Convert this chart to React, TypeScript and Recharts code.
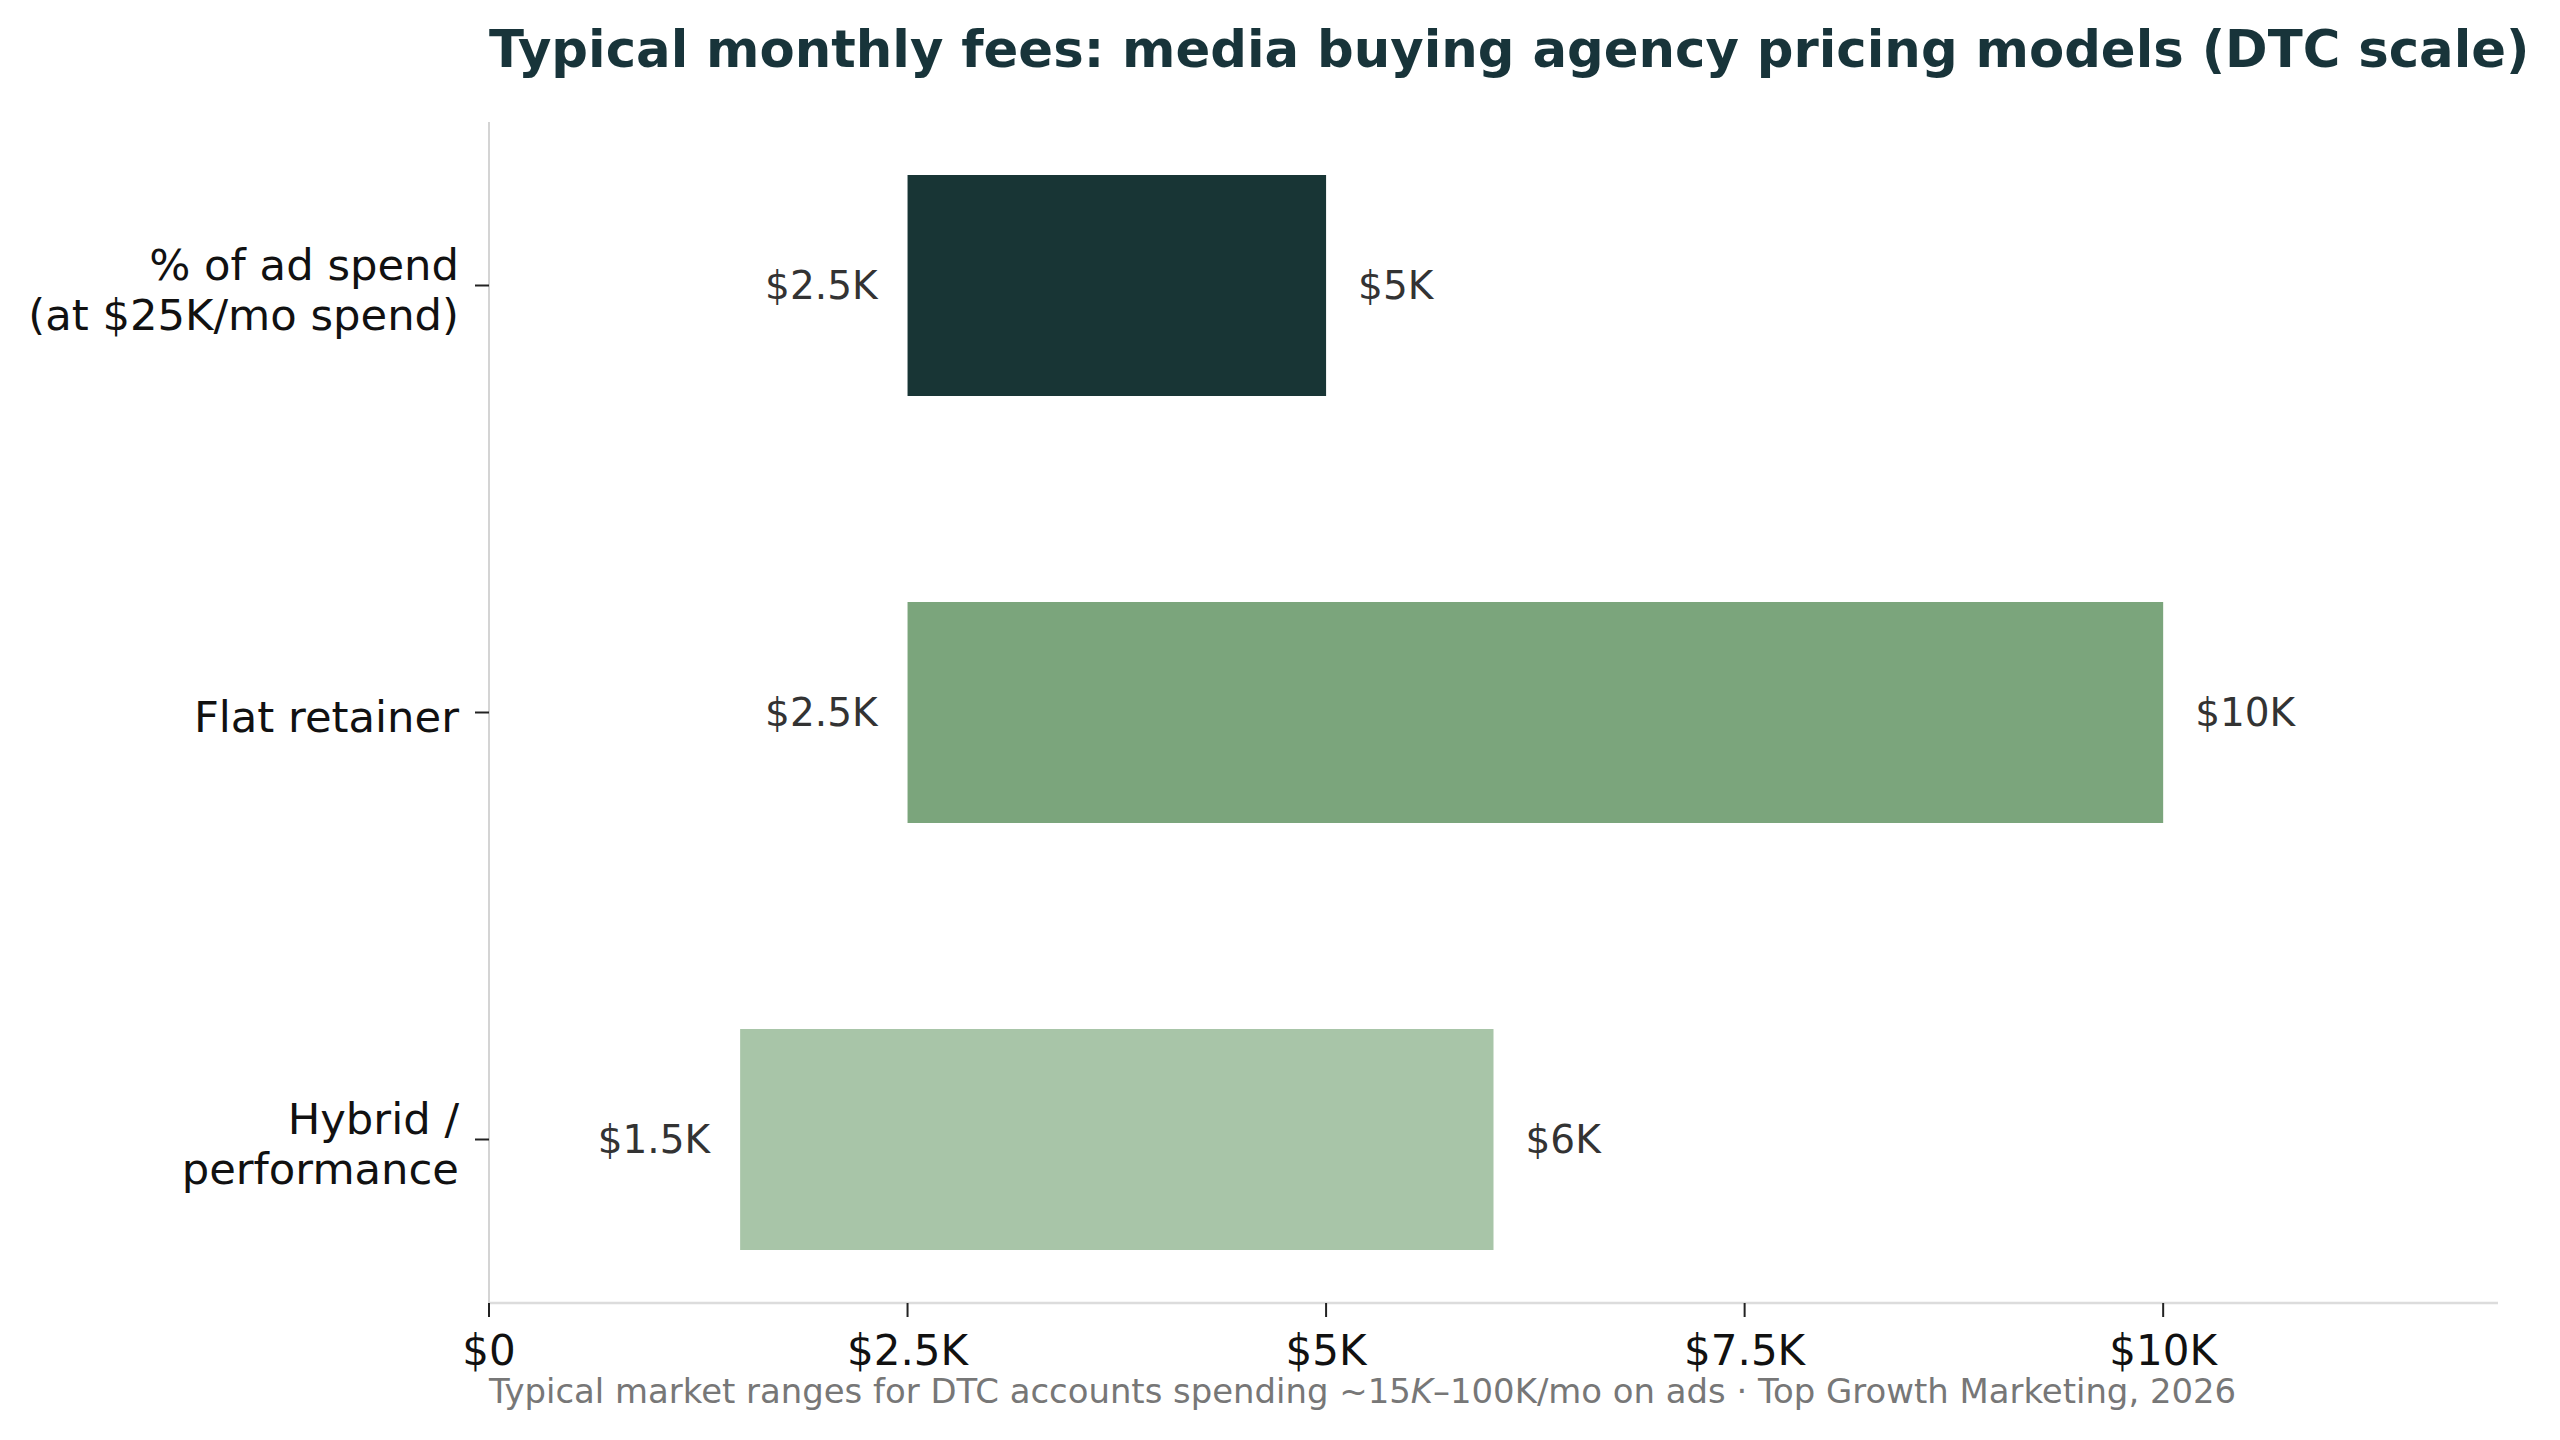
import { BarChart, Bar, XAxis, YAxis, Cell, LabelList } from "recharts";

// Pricing models and their typical monthly fee ranges (USD)
const models = ["% of ad spend\n(at $25K/mo spend)", "Flat retainer", "Hybrid /\nperformance"];
const lowFees = [2500, 2500, 1500];
const highFees = [5000, 10000, 6000];
const barColors = ["#183535", "#7ba57c", "#a8c5a8"];
const feeTicks = [0, 2500, 5000, 7500, 10000];

const chartData = models.map((model, i) => ({
  model,
  range: [lowFees[i], highFees[i]],
}));

const FONT = "DejaVu Sans, sans-serif";
const W = 2560;
const H = 1440;

const fmt = (v: number) => (v === 0 ? "$0" : `$${v / 1000}K`);

function ModelTick({ x, y, payload }: any) {
  const lines = String(payload.value).split("\n");
  return (
    <text x={x} y={y} textAnchor="end" fontSize={43.3} fill="#111" fontFamily={FONT}>
      {lines.map((line, i) => (
        <tspan key={i} x={x} y={y + 19 + (i - (lines.length - 1) / 2) * 50}>
          {line}
        </tspan>
      ))}
    </text>
  );
}

function FeeTick({ x, y, payload }: any) {
  return (
    <text x={x} y={y + 48} textAnchor="middle" fontSize={42} fill="#111" fontFamily={FONT}>
      {fmt(payload.value)}
    </text>
  );
}

// low value to the left of each bar, high value to the right
function RangeLabels(props: any) {
  const { x, y, width, height, index } = props;
  const base = y + height / 2 + 13;
  return (
    <g fontFamily={FONT} fontSize={39} fill="#333">
      <text x={x - 30} y={base} textAnchor="end">
        {fmt(lowFees[index])}
      </text>
      <text x={x + width + 32} y={base} textAnchor="start">
        {fmt(highFees[index])}
      </text>
    </g>
  );
}

export default function App() {
  return (
    <div style={{ position: "absolute", left: 0, top: 0, width: W, height: H, background: "#fff" }}>
      <BarChart
        width={W}
        height={H}
        data={chartData}
        layout="vertical"
        margin={{ top: 122, right: 62, bottom: 57, left: 189 }}
      >
        <XAxis
          type="number"
          domain={[0, 12000]}
          ticks={feeTicks}
          height={80}
          axisLine={{ stroke: "#dcdcdc", strokeWidth: 2.5 }}
          tickLine={{ stroke: "#222", strokeWidth: 2 }}
          tickSize={14}
          tickMargin={0}
          tick={<FeeTick />}
        />
        <YAxis
          type="category"
          dataKey="model"
          width={300}
          padding={{ top: -50, bottom: -50 }}
          axisLine={{ stroke: "#d4d4d4", strokeWidth: 2 }}
          tickLine={{ stroke: "#222", strokeWidth: 2 }}
          tickSize={14}
          tickMargin={16}
          tick={<ModelTick />}
          interval={0}
        />
        <Bar dataKey="range" barSize={221} isAnimationActive={false}>
          {chartData.map((_, i) => (
            <Cell key={i} fill={barColors[i]} />
          ))}
          <LabelList content={<RangeLabels />} />
        </Bar>
      </BarChart>
      <svg
        width={W}
        height={H}
        style={{ position: "absolute", left: 0, top: 0, pointerEvents: "none" }}
      >
        <text x={489} y={67} fontFamily={FONT} fontSize={51.3} fontWeight="bold" fill="#18343a">
          Typical monthly fees: media buying agency pricing models (DTC scale)
        </text>
        <text x={489} y={1403} fontFamily={FONT} fontSize={33.9} fill="#777">
          Typical market ranges for DTC accounts spending ~15
          <tspan fontStyle="italic">K</tspan>–100K/mo on ads · Top Growth Marketing, 2026
        </text>
      </svg>
    </div>
  );
}
